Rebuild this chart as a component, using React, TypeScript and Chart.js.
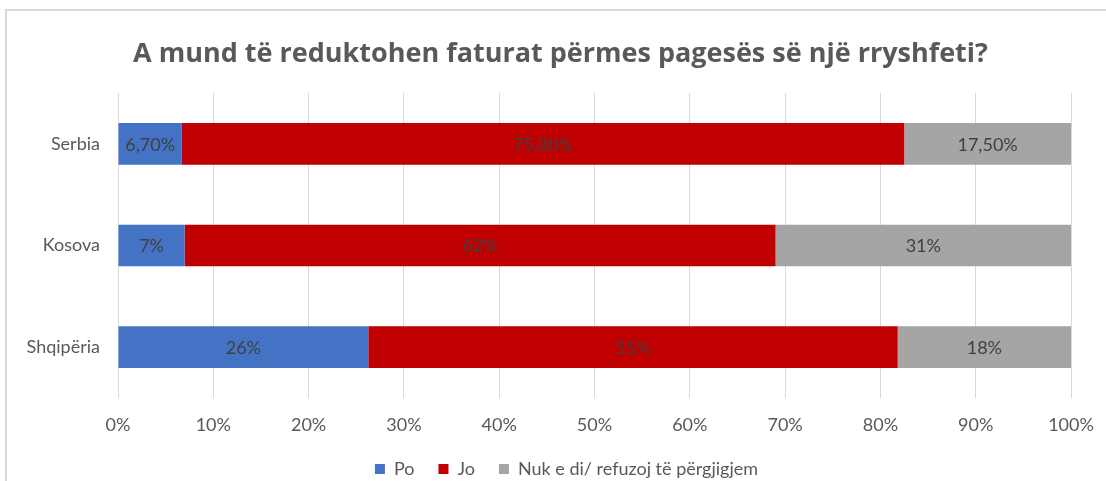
import React, { useEffect, useRef } from "react";
import { Chart, registerables } from "chart.js";

Chart.register(...registerables);

const categories = ["Serbia", "Kosova", "Shqipëria"];
const poValues = [6.7, 7, 26];
const joValues = [75.8, 62, 55];
const nukValues = [17.5, 31, 18];
const labelDecimals = [2, 0, 0];
const seriesNames = ["Po", "Jo", "Nuk e di/ refuzoj të përgjigjem"];
const xTicks = [0, 10, 20, 30, 40, 50, 60, 70, 80, 90, 100];
const titleText = "A mund të reduktohen faturat përmes pagesës së një rryshfeti?";

const colors = ["#4472C4", "#C00000", "#A5A5A5"];
const FONT = "Lato, 'Open Sans', sans-serif";
const TITLE_FONT = "'Open Sans', sans-serif";

const W = 1106;
const H = 488;

const rawSeries = [poValues, joValues, nukValues];
const totals = categories.map((_, i) => poValues[i] + joValues[i] + nukValues[i]);

function fmt(v: number, dec: number) {
  return v.toFixed(dec).replace(".", ",") + "%";
}

const framePlugin = {
  id: "frame",
  beforeDraw(chart: any) {
    const ctx = chart.ctx;
    ctx.save();
    ctx.strokeStyle = "#d9d9d9";
    ctx.lineWidth = 2;
    ctx.strokeRect(6, 10, 3000, 3000);
    ctx.restore();
  },
};

const shiftPlugin = {
  id: "shiftBlocks",
  afterLayout(chart: any) {
    const lg = chart.legend;
    if (lg) {
      lg.left += 31;
      lg.right += 31;
    }
    const tb = chart.titleBlock;
    if (tb) {
      tb.left += 25;
      tb.right += 25;
    }
  },
};

const dataLabelPlugin = {
  id: "dataLabels",
  afterDatasetsDraw(chart: any) {
    const ctx = chart.ctx;
    ctx.save();
    ctx.font = `18px ${FONT}`;
    ctx.fillStyle = "#404040";
    ctx.textAlign = "center";
    ctx.textBaseline = "middle";
    chart.data.datasets.forEach((ds: any, di: number) => {
      const meta = chart.getDatasetMeta(di);
      meta.data.forEach((el: any, i: number) => {
        const raw = rawSeries[di][i];
        const cx = (el.x + el.base) / 2;
        ctx.fillText(fmt(raw, labelDecimals[i]), cx, el.y + 1);
      });
    });
    ctx.restore();
  },
};

export default function App() {
  const ref = useRef<HTMLCanvasElement>(null);
  useEffect(() => {
    if (!ref.current) return;
    const chart = new Chart(ref.current, {
      type: "bar",
      data: {
        labels: categories,
        datasets: rawSeries.map((arr, di) => ({
          label: seriesNames[di],
          data: arr.map((v, i) => (v / totals[i]) * 100),
          backgroundColor: colors[di],
          borderWidth: 0,
          categoryPercentage: 1,
          barPercentage: 0.41,
        })),
      },
      options: {
        indexAxis: "y",
        responsive: false,
        animation: false,
        layout: { padding: { left: 0, right: 35, top: 0, bottom: 0 } },
        scales: {
          x: {
            stacked: true,
            min: 0,
            max: 100,
            afterBuildTicks(scale: any) {
              scale.ticks = xTicks.map((v) => ({ value: v }));
            },
            afterFit(scale: any) {
              scale.height = 38;
              scale.paddingLeft = 0;
              scale.paddingRight = 0;
            },
            grid: { color: "#d9d9d9", lineWidth: 1, drawTicks: false },
            border: { display: false },
            ticks: {
              padding: 16,
              color: "#595959",
              font: { family: FONT, size: 18 },
              callback: (v: any) => v + "%",
            },
          },
          y: {
            stacked: true,
            afterFit(scale: any) {
              scale.width = 118;
              scale.paddingTop = 0;
              scale.paddingBottom = 0;
            },
            grid: { display: false, drawTicks: false },
            border: { display: false },
            ticks: {
              padding: 18,
              color: "#595959",
              font: { family: FONT, size: 18 },
            },
          },
        },
        plugins: {
          title: {
            display: true,
            text: titleText,
            color: "#595959",
            font: { family: TITLE_FONT, size: 27, weight: "bold", lineHeight: 1.2 },
            padding: { top: 38, bottom: 22.6 },
          },
          legend: {
            position: "bottom",
            labels: {
              boxWidth: 10,
              boxHeight: 10,
              padding: 24,
              color: "#595959",
              font: { family: FONT, size: 18 },
            },
          },
          tooltip: { enabled: false },
        },
      },
      plugins: [framePlugin, shiftPlugin, dataLabelPlugin],
    } as any);
    return () => chart.destroy();
  }, []);
  return (
    <div style={{ position: "fixed", left: 0, top: 0, width: W, height: H, background: "#fff" }}>
      <canvas ref={ref} width={W} height={H} style={{ width: W, height: H, display: "block" }} />
    </div>
  );
}
